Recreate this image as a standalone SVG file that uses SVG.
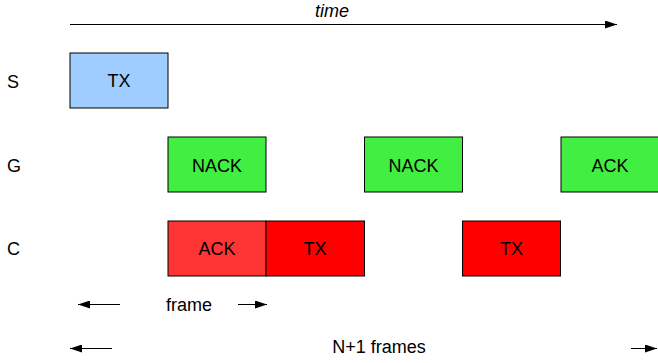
<svg xmlns="http://www.w3.org/2000/svg" width="658" height="363" viewBox="0 0 658 363">
<defs>
<style>
text{font-family:"Liberation Sans",Arial,sans-serif;font-size:18px;fill:#000}
.c{text-anchor:middle}
.box{stroke:#000;stroke-width:1}
.blue{fill:#9fcdff}
.green{fill:#41ee41}
.red{fill:#ff0000}
.red2{fill:#ff3535}
.ln{stroke:#000;stroke-width:1;fill:none}
</style>
<marker id="ah" viewBox="0 0 12 8" refX="12" refY="4" markerWidth="12" markerHeight="8" markerUnits="userSpaceOnUse" orient="auto">
<path d="M0,0 L12,4 L0,8 z" fill="#000"/>
</marker>
</defs>
<rect width="658" height="363" fill="#fff"/>
<g id="labels">
<text x="7" y="88">S</text>
<text x="7" y="172">G</text>
<text x="7" y="255">C</text>
<text x="332" y="17" class="c" font-style="italic">time</text>
<text x="189" y="311" class="c">frame</text>
<text x="379" y="353" class="c">N+1 frames</text>
</g>
<g id="S-TX"><rect class="box blue" x="70" y="53" width="98" height="55"/><text x="119" y="87" class="c">TX</text></g>
<g id="G-NACK1"><rect class="box green" x="168" y="137" width="98" height="55"/><text x="217" y="171.5" class="c">NACK</text></g>
<g id="G-NACK2"><rect class="box green" x="364.5" y="137" width="98" height="55"/><text x="413.5" y="171.5" class="c">NACK</text></g>
<g id="G-ACK"><rect class="box green" x="561" y="137" width="98" height="55"/><text x="610" y="171.5" class="c">ACK</text></g>
<g id="C-ACK"><rect class="box red2" x="168" y="221" width="98" height="55"/><text x="217" y="255" class="c">ACK</text></g>
<g id="C-TX1"><rect class="box red" x="266" y="221" width="98.5" height="55"/><text x="315" y="255" class="c">TX</text></g>
<g id="C-TX2"><rect class="box red" x="462.5" y="221" width="98" height="55"/><text x="511.5" y="255" class="c">TX</text></g>
<g id="connectors">
<line class="ln" x1="70" y1="24.5" x2="617" y2="24.5" marker-end="url(#ah)"/>
<line class="ln" x1="120" y1="304.5" x2="78" y2="304.5" marker-end="url(#ah)"/>
<line class="ln" x1="238" y1="304.5" x2="267" y2="304.5" marker-end="url(#ah)"/>
<line class="ln" x1="112" y1="348.5" x2="70" y2="348.5" marker-end="url(#ah)"/>
<line class="ln" x1="631" y1="348.5" x2="657" y2="348.5" marker-end="url(#ah)"/>
</g>
</svg>
